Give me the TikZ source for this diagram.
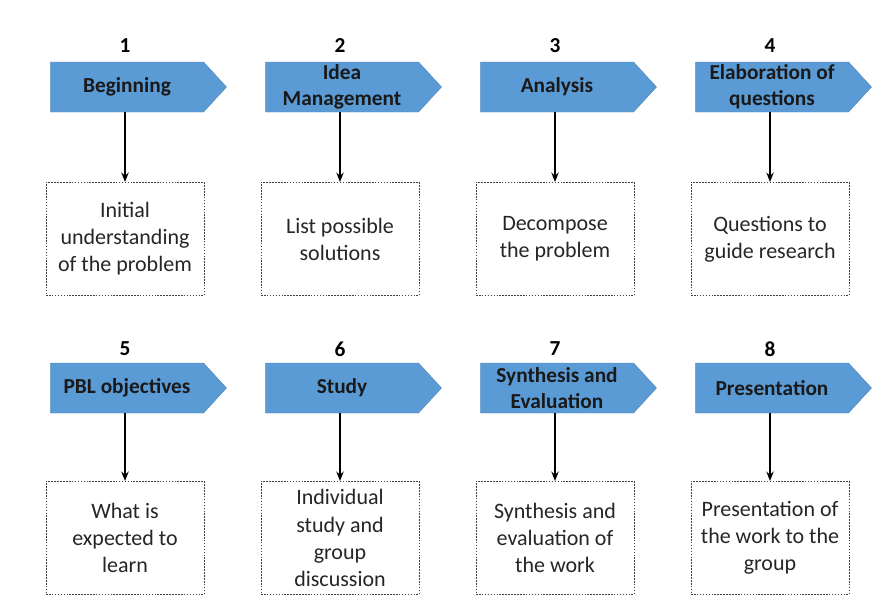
\documentclass[tikz,border=0pt]{standalone}
\usepackage{fontspec}
\setmainfont{Carlito}
\usetikzlibrary{shapes.symbols,arrows.meta,positioning}
\definecolor{stepblue}{HTML}{5B9BD5}
\tikzset{
  stage/.style={signal, signal to=east, signal pointer angle=95, fill=stepblue,
    draw=stepblue!85!black, line width=0.3pt, minimum width=132pt, minimum height=37.5pt,
    inner sep=0pt, align=center, text=black!90, font=\bfseries\fontsize{16}{19.5}\selectfont},
  detail/.style={draw=black!75, line width=0.6pt, dash pattern=on 1.2pt off 1pt,
    minimum width=118.5pt, minimum height=85pt, align=center, text=black!85,
    font=\fontsize{16.5}{20.3}\selectfont},
  stepnum/.style={font=\bfseries\fontsize{16}{18}\selectfont},
  link/.style={-{Stealth[length=7pt,width=5.5pt]}, line width=1.2pt}
}
\begin{document}
\begin{tikzpicture}[x=0.75pt,y=-0.75pt]
  \useasboundingbox[fill=white] (0,0) rectangle (886,614);

  %% first row
  \node[stepnum] (n1) at (125,46) {1};
  \node[stage] (s1) at (127,87) {Beginning};
  \node[detail] (d1) at (125,239) {Initial\\understanding\\of the problem};

  \node[stepnum] (n2) at (340,46) {2};
  \node[stage] (s2) at (342,87) {Idea\\Management};
  \node[detail] (d2) at (340,239) {List possible\\solutions};

  \node[stepnum] (n3) at (555,46) {3};
  \node[stage] (s3) at (557,87) {Analysis};
  \node[detail] (d3) at (555,239) {Decompose\\the problem};

  \node[stepnum] (n4) at (770,46) {4};
  \node[stage] (s4) at (772,87) {Elaboration of\\questions};
  \node[detail] (d4) at (770,239) {Questions to\\guide research};

  %% second row
  \node[stepnum] (n5) at (125,349) {5};
  \node[stage] (s5) at (127,388) {PBL objectives};
  \node[detail] (d5) at (125,538) {What is\\expected to\\learn};

  \node[stepnum] (n6) at (340,349) {6};
  \node[stage] (s6) at (342,388) {Study};
  \node[detail] (d6) at (340,538) {Individual\\study and\\group\\discussion};

  \node[stepnum] (n7) at (555,349) {7};
  \node[stage] (s7) at (557,388) {Synthesis and\\Evaluation};
  \node[detail] (d7) at (555,538) {Synthesis and\\evaluation of\\the work};

  \node[stepnum] (n8) at (770,349) {8};
  \node[stage] (s8) at (772,388) {Presentation};
  \node[detail] (d8) at (770,538) {Presentation of\\the work to the\\group};

  %% arrows down
  \draw[link] (d1.north |- s1.south) -- (d1.north);
  \draw[link] (d2.north |- s2.south) -- (d2.north);
  \draw[link] (d3.north |- s3.south) -- (d3.north);
  \draw[link] (d4.north |- s4.south) -- (d4.north);
  \draw[link] (d5.north |- s5.south) -- (d5.north);
  \draw[link] (d6.north |- s6.south) -- (d6.north);
  \draw[link] (d7.north |- s7.south) -- (d7.north);
  \draw[link] (d8.north |- s8.south) -- (d8.north);
\end{tikzpicture}
\end{document}
